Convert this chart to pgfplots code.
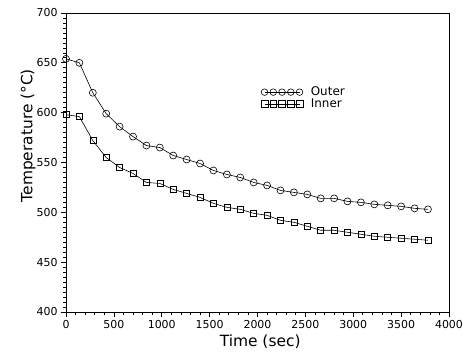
\documentclass[border=0pt]{standalone}
\usepackage{fontspec}
\setmainfont{DejaVu Sans}
\usepackage{pgfplots}
\pgfplotsset{compat=1.18}
\pgfplotstableread{
t T
0 654
140 650
280 620
420 599
560 586
700 576
840 567
980 565
1120 557
1260 553
1400 549
1540 542
1680 538
1820 535
1960 530
2100 527
2240 522
2380 520
2520 518
2660 514
2800 514
2940 511
3080 510
3220 508
3360 507
3500 506
3640 504
3780 503
}\outer
\pgfplotstableread{
t T
0 598
140 596
280 572
420 555
560 545
700 539
840 530
980 529
1120 523
1260 519
1400 515
1540 509
1680 505
1820 503
1960 499
2100 497
2240 492
2380 490
2520 486
2660 482
2800 482
2940 480
3080 478
3220 476
3360 475
3500 474
3640 473
3780 472
}\inner
\begin{document}
\begin{tikzpicture}
\useasboundingbox (-66bp,-42bp) rectangle (398bp,312bp);
\begin{axis}[
 at={(0,0)}, anchor=south west,
 scale only axis, width=383bp, height=299bp,
 xmin=0, xmax=4000, ymin=400, ymax=700,
 xtick distance=500, ytick distance=50,
 minor x tick num=4, minor y tick num=9,
 tick pos=left, tick align=outside,
 major tick length=5bp, minor tick length=3bp,
 axis line style={line width=0.9bp},
 every tick/.style={black, line width=0.7bp},
 /pgf/number format/assume math mode=true,
 /pgf/number format/1000 sep={},
 tick label style={font=\fontsize{11}{13}\selectfont},
 xlabel={Time (sec)}, ylabel={Temperature (°C)},
 label style={font=\fontsize{15.5}{18}\selectfont},
 xlabel style={at={(axis description cs:0.507,-0.1)}, anchor=center},
 ylabel style={at={(axis description cs:-0.099,0.59)}, anchor=center},
 legend cell align=left,
 legend style={draw=none, fill=none, at={(axis cs:2037,628)}, anchor=north west,
   inner sep=0pt, row sep=-2.5pt, font=\fontsize{12}{14}\selectfont,
   /tikz/every odd column/.append style={column sep=6bp}},
 legend image code/.code={\draw[#1, mark size=3.3bp] plot coordinates {(0bp,0bp) (8.75bp,0bp) (17.5bp,0bp) (26.25bp,0bp) (35bp,0bp)};},
]
\addplot[black, line width=0.6bp, mark=o, mark size=3.5bp, mark options={line width=0.6bp}] table[x=t,y=T] {\outer};
\addlegendentry{Outer}
\addplot[black, line width=0.6bp, mark=square, mark size=3bp, mark options={line width=0.6bp}] table[x=t,y=T] {\inner};
\addlegendentry{Inner}
\end{axis}
\end{tikzpicture}
\end{document}
